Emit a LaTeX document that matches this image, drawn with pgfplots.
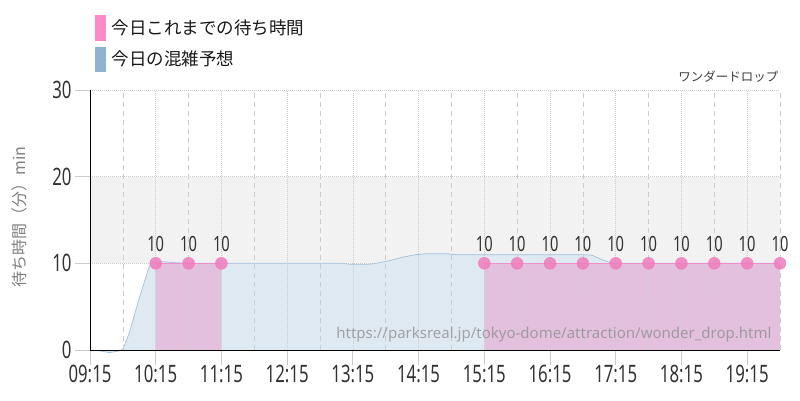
\documentclass[border=0pt]{standalone}
\usepackage{pgfplots}
\pgfplotsset{compat=1.18}
\usepackage{fontspec}
\setmainfont{Noto Sans}
\newfontfamily\numfont[FakeStretch=0.7]{Noto Sans}
\newfontfamily\jp{Noto Sans CJK JP}
\definecolor{pinkm}{HTML}{F07CBC}
\definecolor{pinkline}{HTML}{F090C8}
\definecolor{pinkfill}{HTML}{E2C0DE}
\definecolor{bluefill}{HTML}{DFE9F2}
\definecolor{blueline}{HTML}{A3C1DA}
\definecolor{bandgray}{HTML}{F2F2F2}
\definecolor{gridgray}{HTML}{CCCCCC}
\definecolor{legpink}{HTML}{FF88C8}
\definecolor{legblue}{HTML}{8FB3D0}
\definecolor{numcol}{HTML}{333333}
\begin{document}
\begin{tikzpicture}[x=1pt,y=1pt]
\path[use as bounding box] (0pt,0pt) rectangle (800pt,400pt);
\begin{axis}[at={(90pt,50pt)}, anchor=south west, scale only axis,
  width=690pt, height=260pt,
  xmin=9.25, xmax=19.75, ymin=0, ymax=30,
  axis on top, clip=false,
  axis x line*=bottom, axis y line*=left,
  axis line style={black, line width=0.8pt, -},
  xtick={9.25,10.25,11.25,12.25,13.25,14.25,15.25,16.25,17.25,18.25,19.25},
  xticklabels={09:15,10:15,11:15,12:15,13:15,14:15,15:15,16:15,17:15,18:15,19:15},
  minor xtick={9.75,10.75,11.75,12.75,13.75,14.75,15.75,16.75,17.75,18.75,19.75},
  xmajorgrids, xminorgrids,
  major grid style={gridgray, dash pattern=on 1pt off 1pt, line width=0.7pt},
  minor grid style={gridgray, dash pattern=on 5pt off 4pt, line width=0.7pt},
  ytick={0,10,20,30},
  tick align=outside, major tick length=15pt, minor tick length=0pt,
  tick style={gridgray, line width=0.8pt},
  ticklabel style={font=\numfont\fontsize{24}{24}\selectfont, text=numcol},
  xticklabel style={yshift=3pt},
  /pgf/number format/assume math mode=true,
]
\fill[bandgray] (axis cs:9.25,10) rectangle (axis cs:19.75,20);
\draw[gridgray, dash pattern=on 1pt off 1pt, line width=0.7pt] (axis cs:9.25,10) -- (axis cs:19.75,10);
\draw[gridgray, dash pattern=on 1pt off 1pt, line width=0.7pt] (axis cs:9.25,20) -- (axis cs:19.75,20);
\draw[gridgray, dash pattern=on 1pt off 1pt, line width=0.7pt] (axis cs:9.25,30) -- (axis cs:19.75,30);
% forecast area
\addplot[draw=none, fill=bluefill] coordinates {
(9.25,0) (9.4,-0.1) (9.55,-0.3) (9.7,-0.1) (9.75,0.1) (9.85,2) (10.0,6) (10.15,9.6) (10.2,10.1)
(10.35,10.2) (10.5,10.1) (10.75,10.0) (13.1,10.0) (13.2,9.9) (13.5,9.9) (13.6,10.0) (13.8,10.3)
(14.0,10.7) (14.2,11.0) (14.35,11.1) (14.7,11.1) (14.8,11.0) (16.8,11.0) (16.9,10.9) (17.05,10.4)
(17.2,10.0) (19.75,10.0)} \closedcycle;
\addplot[draw=blueline, line width=0.7pt] coordinates {
(9.25,0) (9.4,-0.1) (9.55,-0.3) (9.7,-0.1) (9.75,0.1) (9.85,2) (10.0,6) (10.15,9.6) (10.2,10.1)
(10.35,10.2) (10.5,10.1) (10.75,10.0) (13.1,10.0) (13.2,9.9) (13.5,9.9) (13.6,10.0) (13.8,10.3)
(14.0,10.7) (14.2,11.0) (14.35,11.1) (14.7,11.1) (14.8,11.0) (16.8,11.0) (16.9,10.9) (17.05,10.4)
(17.2,10.0) (19.75,10.0)};
% actual wait area
\addplot[draw=none, fill=pinkfill] coordinates {(10.25,10) (10.75,10) (11.25,10)} \closedcycle;
\addplot[draw=none, fill=pinkfill] coordinates {(15.25,10) (15.75,10) (16.25,10) (16.75,10) (17.25,10) (17.75,10) (18.25,10) (18.75,10) (19.25,10) (19.75,10)} \closedcycle;
\addplot[pinkline, line width=1pt] coordinates {(10.25,10) (10.75,10) (11.25,10)};
\addplot[pinkline, line width=1pt] coordinates {(15.25,10) (15.75,10) (16.25,10) (16.75,10) (17.25,10) (17.75,10) (18.25,10) (18.75,10) (19.25,10) (19.75,10)};
\addplot[pinkm, only marks, mark=*, mark size=6pt, mark options={fill=pinkm, draw=pinkm, opacity=0.85},
  nodes near coords,
  nodes near coords style={anchor=center, yshift=19pt, opacity=1, font=\numfont\fontsize{21}{21}\selectfont, text=numcol}]
  coordinates {(10.25,10) (10.75,10) (11.25,10) (15.25,10) (15.75,10) (16.25,10) (16.75,10) (17.25,10) (17.75,10) (18.25,10) (18.75,10) (19.25,10) (19.75,10)};
\end{axis}
\node[anchor=east, text=black!45, opacity=0.75, font=\fontsize{15}{15}\selectfont] at (775pt,65pt) {https://parksreal.jp/tokyo-dome/attraction/wonder\_drop.html};
\node[rotate=90, text=gray, font=\jp\fontsize{16}{16}\selectfont] at (19pt,183pt) {待ち時間（分）min};
\fill[legpink] (95pt,359pt) rectangle (106pt,385pt);
\fill[legblue] (95pt,328pt) rectangle (106pt,353pt);
\node[anchor=west, font=\jp\fontsize{17.5}{17.5}\selectfont, text=black!90] at (108pt,372pt) {今日これまでの待ち時間};
\node[anchor=west, font=\jp\fontsize{17.5}{17.5}\selectfont, text=black!90] at (108pt,341pt) {今日の混雑予想};
\node[anchor=east, font=\jp\fontsize{12.5}{12.5}\selectfont, text=black!75] at (782pt,323pt) {ワンダードロップ};
\end{tikzpicture}
\end{document}
